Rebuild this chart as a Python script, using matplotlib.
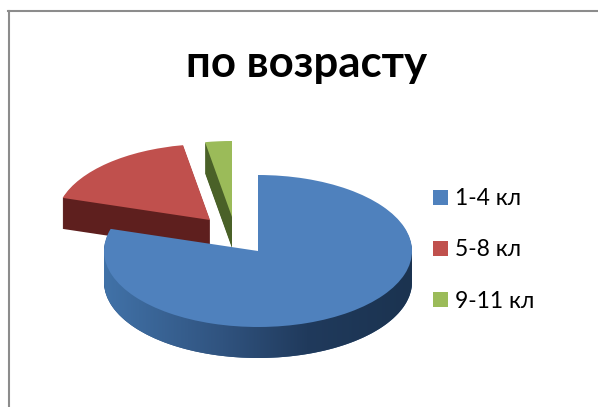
import matplotlib
matplotlib.use('Agg')
import matplotlib.pyplot as plt
import numpy as np
from matplotlib.colors import LinearSegmentedColormap
from matplotlib.lines import Line2D
from matplotlib.patches import Polygon

# доли по возрасту
labels = ['1-4 кл', '5-8 кл', '9-11 кл']
values = [79.7, 17.5, 2.8]
title = 'по возрасту'

top_colors = ['#4f81bd', '#c0504d', '#9bbb59']
side_colors = ['#2f5480', '#5e1f1e', '#4a6128']

W, H = 598, 407
RX, RY = 154, 76       # полуоси эллипса в пикселях
CX, CY = 258, 251      # центр синего сектора
DEPTH = 31
# сдвиг секторов в пикселях (вправо, вверх)
shift = [(0, 0), (-48, 31), (-26, 34)]

plt.rcParams['font.family'] = ['Lato', 'Open Sans', 'DejaVu Sans']

fig = plt.figure(figsize=(W / 100, H / 100), dpi=100)
ax = fig.add_axes([0, 0, 1, 1])


def draw_layer(dy, colors, z):
    wedges, _ = ax.pie(values, colors=colors, startangle=90, counterclock=False,
                       radius=1, wedgeprops={'linewidth': 0, 'antialiased': True})
    for i, w in enumerate(wedges):
        w.set_center((shift[i][0] / RX, (shift[i][1] - dy) / RY))
        # синий сектор поверх остальных
        w.set_zorder(z + (10 if i == 0 else 0))
    return wedges


for d in range(DEPTH, 0, -1):
    draw_layer(d, side_colors, 1)
top = draw_layer(0, top_colors, 2)

# градиент на боковой стенке синего сектора
wall_cmap = LinearSegmentedColormap.from_list(
    'wall', [(0, '#4172a8'), (0.385, '#30537f'), (0.66, '#203a5c'), (1, '#1b3350')])
im = ax.imshow(np.linspace(0, 1, 256).reshape(1, -1), cmap=wall_cmap, aspect='auto',
               extent=(-1, 1, -2, 1), zorder=11.5)
t = np.linspace(np.pi, 2 * np.pi, 200)
outline = np.column_stack([np.cos(t), np.sin(t) - DEPTH / RY])
outline = np.vstack([outline, [[1, 0], [-1, 0]]])
im.set_clip_path(Polygon(outline, transform=ax.transData))

ax.set_aspect('auto')
ax.set_xlim(-CX / RX, (W - CX) / RX)
ax.set_ylim(-(H - CY) / RY, CY / RY)
ax.axis('off')

# рамка
fig.add_artist(Line2D([9 / W, 9 / W], [0, 1 - 11 / H], color='#8c8c8c', lw=1.5))
fig.add_artist(Line2D([8 / W, 1], [1 - 11 / H, 1 - 11 / H], color='#8c8c8c', lw=1.5))

fig.text(307 / W, 1 - 64 / H, title, fontsize=31.5, fontweight='bold',
         ha='center', va='center', color='black')

ax.legend(top, labels, loc='center left', bbox_to_anchor=(433 / W, 1 - 250 / H),
          bbox_transform=fig.transFigure, frameon=False, fontsize=16.5,
          handlelength=0.65, handleheight=0.65, handletextpad=0.3,
          labelspacing=1.32, borderpad=0, borderaxespad=0)

fig.savefig('out.png', dpi=100)
